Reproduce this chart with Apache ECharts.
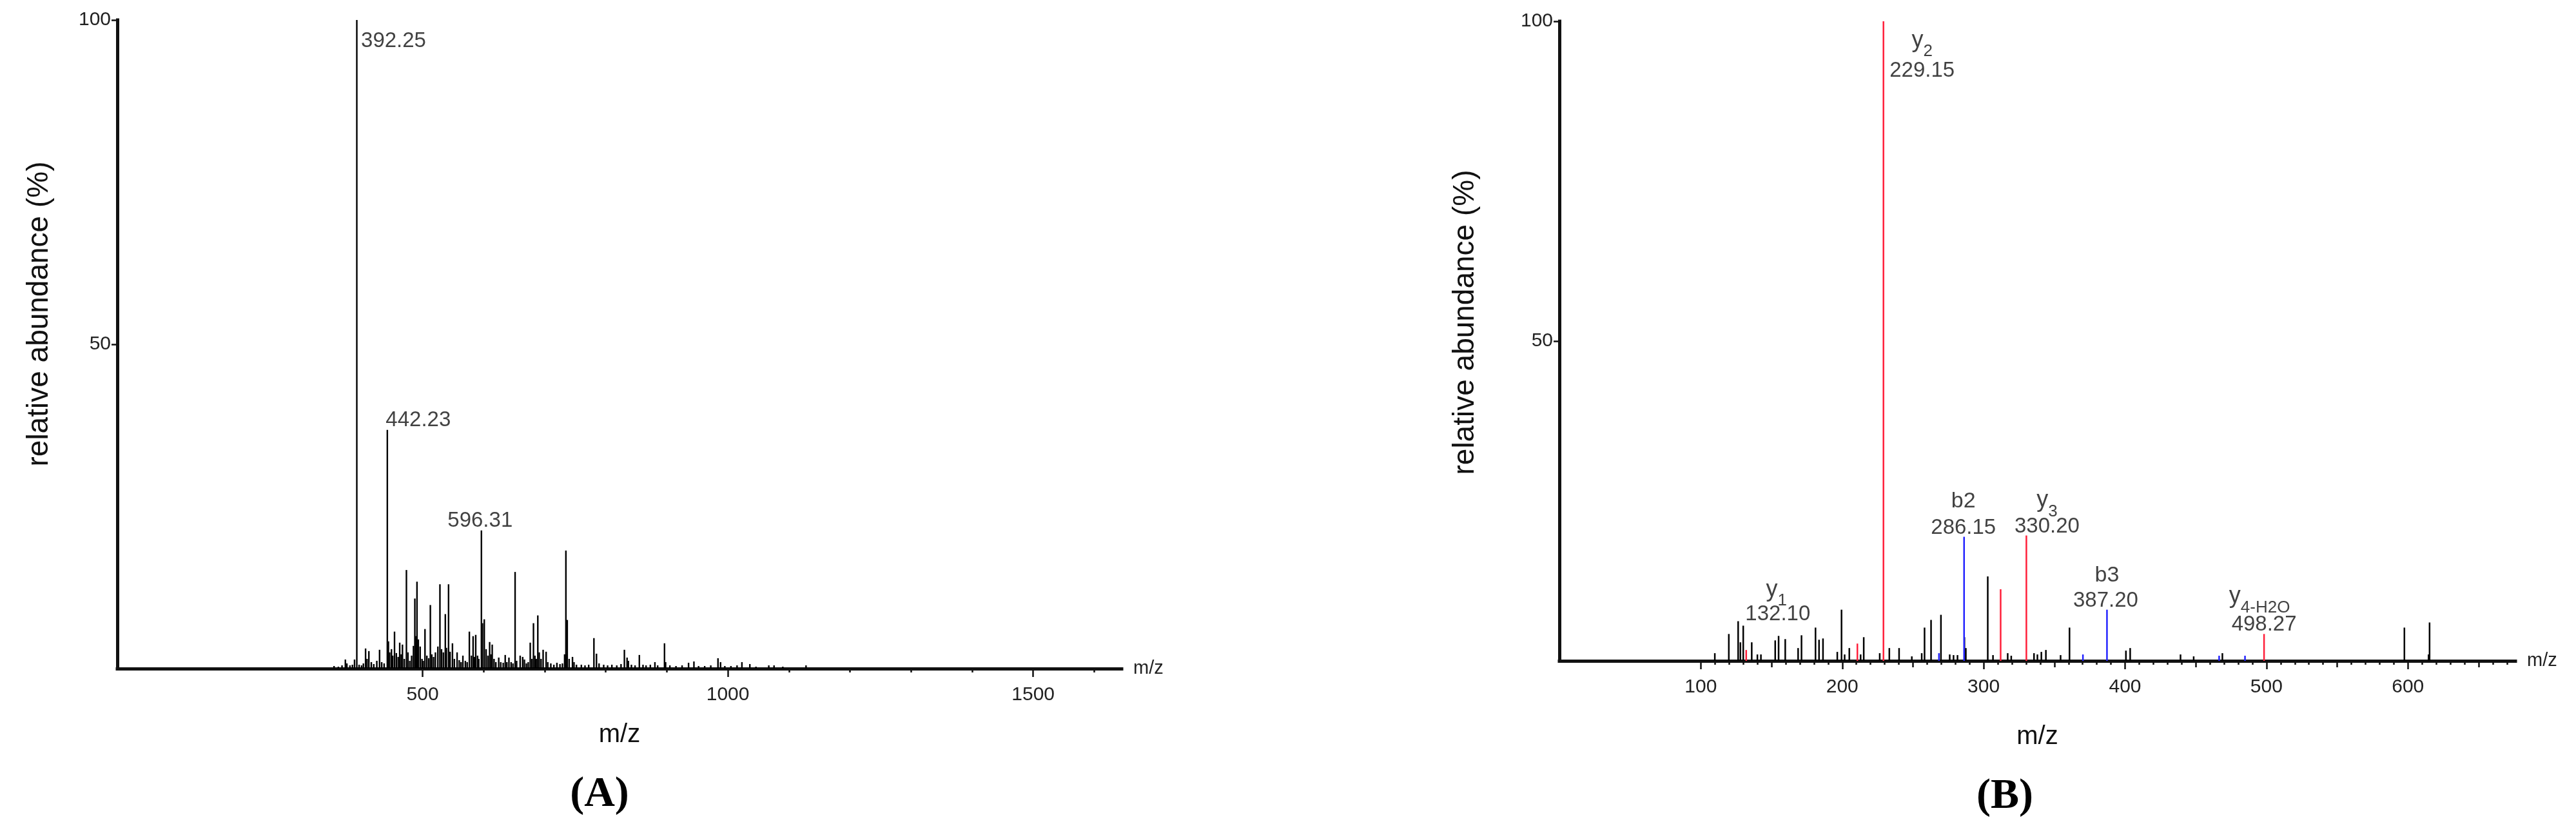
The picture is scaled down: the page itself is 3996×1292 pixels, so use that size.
<!DOCTYPE html>
<html>
<head>
<meta charset="utf-8">
<title>MS spectra</title>
<script src="https://cdn.jsdelivr.net/npm/echarts@6/dist/echarts.min.js"></script>
<style>
html, body { margin: 0; padding: 0; background: #fff; }
#chart { width: 3996px; height: 1292px; }
</style>
</head>
<body>
<div id="chart"></div>
<script>
// (A) full scan: [m/z, relative abundance %]
var peaksA = [
  [355, 0.4], [362, 0.3], [368, 0.5], [373.5, 1.4], [376, 0.8], [381, 0.5], [385, 0.6], [388.5, 1.4],
  [392.25, 100], [396, 0.6], [400, 0.5], [403, 0.8], [406.6, 3.1], [409, 1.5], [412, 2.7], [416, 1.0],
  [420, 0.7], [425, 1.2], [429.5, 2.9], [433, 1.0], [437, 0.8], [442.23, 36.8], [444, 4.2], [446, 2.5],
  [449, 3.0], [451, 2.0], [454, 5.7], [457, 2.4], [460, 1.8], [462.5, 4.0], [465, 2.2], [467, 3.7],
  [470, 1.5], [473.5, 15.2], [476, 2.5], [479, 1.2], [482, 2.0], [485, 3.5], [487.3, 10.8], [489, 5.0],
  [490.8, 13.4], [493, 4.5], [496, 3.4], [499, 1.5], [501, 1.2], [503.9, 6.1], [507, 2.0], [510, 1.6],
  [512.7, 9.8], [515, 2.2], [518, 1.8], [521, 2.5], [525, 3.4], [528.4, 13.0], [531, 3.0], [534, 2.5],
  [537.2, 8.4], [539, 3.2], [542.5, 13.0], [545, 2.6], [548.9, 3.9], [552, 1.5], [556.5, 2.5], [560, 1.3],
  [563, 1.0], [566, 2.0], [570, 1.2], [573, 1.0], [576.6, 5.7], [580, 2.0], [582.7, 5.0], [585, 1.8],
  [587, 5.2], [590, 2.0], [592, 1.5], [596.31, 21.3], [598, 7.0], [601, 7.6], [604, 3.0], [607, 2.0],
  [609.8, 4.1], [612, 2.2], [614, 3.7], [617, 1.5], [620, 1.0], [624.7, 1.7], [628, 1.0], [632, 0.9],
  [635.3, 2.1], [638, 1.0], [641.4, 1.7], [645, 1.0], [648, 0.8], [651.5, 14.9], [654, 1.2], [659.8, 2.0],
  [663.9, 1.8], [666.8, 1.4], [670, 0.8], [673, 1.0], [676.3, 4.0], [679, 1.5], [681.6, 7.0], [684, 2.0],
  [686, 1.5], [688.7, 8.2], [691, 2.5], [694, 1.5], [697.4, 2.9], [702.3, 2.6], [705, 1.0], [710, 0.8],
  [715, 0.6], [720, 0.9], [725, 0.7], [729, 0.8], [732.6, 2.2], [734.7, 18.2], [736.9, 7.5], [740, 1.5],
  [745.5, 1.8], [748, 1.0], [752, 0.6], [760, 0.6], [766, 0.5], [772, 0.6], [780.6, 4.7], [784.8, 2.3],
  [789, 0.8], [796.6, 0.6], [803, 0.5], [810, 0.6], [818, 0.5], [825, 0.7], [830.5, 2.9], [834.9, 1.7],
  [837, 1.2], [842, 0.6], [848, 0.5], [855, 2.1], [861, 0.6], [866, 0.5], [873, 0.6], [880.5, 1.0],
  [885, 0.5], [896.2, 3.9], [898, 1.0], [905, 0.5], [915, 0.4], [925, 0.5], [935.6, 0.9], [944.4, 1.1],
  [952, 0.4], [962, 0.4], [972, 0.5], [983.8, 1.6], [988, 1.0], [995, 0.4], [1005, 0.4], [1015, 0.5],
  [1023, 1.0], [1036, 0.7], [1046, 0.3], [1067, 0.5], [1075.6, 0.5], [1090, 0.3], [1128, 0.5]
];
var labelsA = [[392.25, 100], [442.23, 36.8], [596.31, 21.3]];

// (B) MS/MS: unassigned (black), y ions (red), b ions (blue)
var peaksB = [
  [109.9, 1.2], [119.8, 4.2], [126.4, 6.2], [128, 2.9], [130, 5.5], [136, 2.9], [140, 1.0], [142.5, 1.0],
  [152.6, 3.2], [155, 3.9], [159.7, 3.4], [168.8, 2.0], [171.2, 4.0], [181.1, 5.2], [183.6, 3.3], [186.4, 3.5],
  [196.5, 1.4], [199.5, 8.0], [201.7, 1.0], [205, 2.0], [213, 1.0], [215.2, 3.7], [226.5, 1.2], [233.3, 2.0],
  [240.2, 2.0], [249.2, 0.7], [256.2, 1.2], [258.2, 5.2], [262.8, 6.4], [269.8, 7.2], [276, 1.0], [278.7, 0.9],
  [281.5, 0.9], [286.4, 3.7], [287.4, 2.0], [302.9, 13.2], [306.6, 0.9], [317, 1.2], [319.5, 0.8], [335.6, 1.2],
  [338, 1.0], [340.8, 1.4], [344, 1.7], [354.4, 0.9], [360.7, 5.2], [400.6, 1.6], [403.6, 2.0], [439.2, 1.0],
  [448.5, 0.7], [468.8, 1.2], [597.5, 5.2], [614.6, 1.0], [615.3, 6.0]
];
var ionsY = [[132.10, 1.7], [210.7, 2.7], [229.15, 100], [312.0, 11.2], [330.20, 19.6], [498.27, 4.2]];
var ionsB = [[268.4, 1.2], [286.15, 19.4], [370.2, 1.0], [387.20, 8.0], [466.5, 0.8], [484.8, 0.8]];
// annotated fragments: [m/z, abundance, ion letter, index]
var annB = [
  [132.10, 1.7, 'y', '1'], [229.15, 100, 'y', '2'], [286.15, 19.4, 'b2', ''],
  [330.20, 19.6, 'y', '3'], [387.20, 8.0, 'b3', ''], [498.27, 4.2, 'y', '4-H2O']
];

var ticksA = [500, 1000, 1500];
var ticksB = [100, 200, 300, 400, 500, 600];
var ticksY = [50, 100];

// label placement (px) relative to the top of each annotated peak
var offA = [[57, 49], [48, 1], [-2, 1]];
var offNumB = [[49, -39], [60, 93], [-1, 2], [32, 2], [-2, 2], [0, 2]];
var offIonB = [[47, -63], [60, 60], [-1, -31], [32, -24], [0, -29], [-7, -28]];

var FONT = '"Liberation Sans", Arial, sans-serif';
var INK = '#111';

var minorA = [], halfB = [], minorB = [];
for (var v = 600; v <= 1600; v += 100) if (v % 500) minorA.push(v);
for (var v = 150; v <= 650; v += 100) halfB.push(v);
for (var v = 110; v <= 670; v += 10) if (v % 50) minorB.push(v);

function stick(color, width) {
  return function (params, api) {
    var top = api.coord([api.value(0), api.value(1)]);
    var base = api.coord([api.value(0), 0]);
    return {
      type: 'line',
      shape: { x1: base[0], y1: base[1], x2: top[0], y2: top[1] },
      style: { stroke: color, lineWidth: width }
    };
  };
}

function plain(v) { return String(v); }

function xAx(grid, max, ticks, len, opts) {
  var a = {
    type: 'value', gridIndex: grid, min: 0, max: max, position: 'bottom', offset: 0,
    splitLine: { show: false },
    axisLine: { show: false },
    axisTick: { show: true, customValues: ticks, length: len, lineStyle: { color: INK, width: 2.5 } },
    axisLabel: { show: false }
  };
  for (var k in opts) a[k] = opts[k];
  return a;
}

var axisLine = { show: true, onZero: false, lineStyle: { color: INK, width: 5, cap: 'square' } };

var xAxes = [
  xAx(0, 1645, ticksA, 13, {
    axisLine: axisLine,
    axisLabel: { show: true, customValues: ticksA, formatter: plain, fontSize: 30, fontFamily: FONT, color: '#222', margin: 26 },
    name: 'm/z', nameLocation: 'end', nameGap: 18,
    nameTextStyle: { fontSize: 29, fontFamily: FONT, color: '#222', verticalAlign: 'middle', padding: [14, 0, 0, 0] }
  }),
  xAx(0, 1645, minorA, 6, {
    name: 'm/z', nameLocation: 'middle', nameGap: 83,
    nameTextStyle: { fontSize: 40, fontFamily: FONT, color: INK }
  }),
  xAx(1, 676, ticksB, 13, {
    axisLine: axisLine,
    axisLabel: { show: true, customValues: ticksB, formatter: plain, fontSize: 30, fontFamily: FONT, color: '#222', margin: 26 },
    name: 'm/z', nameLocation: 'end', nameGap: 18,
    nameTextStyle: { fontSize: 29, fontFamily: FONT, color: '#222', verticalAlign: 'middle', padding: [14, 0, 0, 0] }
  }),
  xAx(1, 676, halfB, 10, {
    name: 'm/z', nameLocation: 'middle', nameGap: 98,
    nameTextStyle: { fontSize: 40, fontFamily: FONT, color: INK }
  }),
  xAx(1, 676, minorB, 6, {})
];

function yAx(grid) {
  return {
    type: 'value', gridIndex: grid, min: 0, max: 100, position: 'left',
    splitLine: { show: false },
    axisLine: axisLine,
    axisTick: { show: true, customValues: ticksY, length: 9, lineStyle: { color: INK, width: 2.5 } },
    axisLabel: { show: true, customValues: ticksY, formatter: plain, fontSize: 30, fontFamily: FONT, color: '#222', margin: 10 }
  };
}

var numLabel = {
  show: true, position: 'top', distance: 0,
  fontSize: 33, lineHeight: 32, fontFamily: FONT, color: INK,
  formatter: function (p) { return p.value[0].toFixed(2); }
};

var option = {
  animation: false,
  backgroundColor: '#fff',
  grid: [
    { left: 182, top: 31, width: 1558, height: 1006, outerBoundsMode: 'none' },
    { left: 2419, top: 33, width: 1483, height: 992, outerBoundsMode: 'none' }
  ],
  xAxis: xAxes,
  yAxis: [yAx(0), yAx(1)],
  series: [
    { type: 'custom', xAxisIndex: 0, yAxisIndex: 0, silent: true, renderItem: stick('#000', 2.4), data: peaksA },
    {
      type: 'scatter', xAxisIndex: 0, yAxisIndex: 0, symbolSize: 0, silent: true,
      itemStyle: { color: 'transparent' }, label: numLabel,
      data: labelsA.map(function (d, i) { return { value: d, label: { offset: offA[i] } }; })
    },
    { type: 'custom', xAxisIndex: 2, yAxisIndex: 1, silent: true, renderItem: stick('#000', 2.5), data: peaksB },
    { type: 'custom', xAxisIndex: 2, yAxisIndex: 1, silent: true, renderItem: stick('#2222ff', 2.5), data: ionsB },
    { type: 'custom', xAxisIndex: 2, yAxisIndex: 1, silent: true, renderItem: stick('#ff1f3a', 2.5), data: ionsY },
    {
      type: 'scatter', xAxisIndex: 2, yAxisIndex: 1, symbolSize: 0, silent: true,
      itemStyle: { color: 'transparent' }, label: numLabel,
      data: annB.map(function (d, i) { return { value: [d[0], d[1]], label: { offset: offNumB[i] } }; })
    },
    {
      type: 'scatter', xAxisIndex: 2, yAxisIndex: 1, symbolSize: 0, silent: true,
      itemStyle: { color: 'transparent' },
      label: {
        show: true, position: 'top', distance: 0, color: INK, fontFamily: FONT,
        formatter: function (p) {
          var d = annB[p.dataIndex];
          if (!d[3]) return '{bion|' + d[2] + '}';
          return '{ion|' + d[2] + '}{sub|' + d[3] + '}';
        },
        rich: {
          ion: { fontSize: 36, lineHeight: 24, verticalAlign: 'top', fontFamily: FONT, color: INK },
          sub: { fontSize: 26, lineHeight: 48, verticalAlign: 'bottom', fontFamily: FONT, color: INK },
          bion: { fontSize: 34, lineHeight: 48, fontFamily: FONT, color: INK }
        }
      },
      data: annB.map(function (d, i) { return { value: [d[0], d[1]], label: { offset: offIonB[i] } }; })
    }
  ],
  graphic: [
    { type: 'text', x: 61, y: 487, rotation: Math.PI / 2, silent: true,
      style: { text: 'relative abundance (%)', fontSize: 46, fontFamily: FONT, fill: INK, align: 'center', verticalAlign: 'middle' } },
    { type: 'text', x: 2273, y: 500, rotation: Math.PI / 2, silent: true,
      style: { text: 'relative abundance (%)', fontSize: 46, fontFamily: FONT, fill: INK, align: 'center', verticalAlign: 'middle' } },
    { type: 'text', x: 930, y: 1233, silent: true,
      style: { text: '(A)', fontSize: 66, fontWeight: 'bold', fontFamily: '"Liberation Serif", "Times New Roman", serif', fill: '#000', align: 'center', verticalAlign: 'middle' } },
    { type: 'text', x: 3110, y: 1236, silent: true,
      style: { text: '(B)', fontSize: 66, fontWeight: 'bold', fontFamily: '"Liberation Serif", "Times New Roman", serif', fill: '#000', align: 'center', verticalAlign: 'middle' } }
  ]
};

var chart = echarts.init(document.getElementById('chart'));
chart.setOption(option);
</script>
</body>
</html>
